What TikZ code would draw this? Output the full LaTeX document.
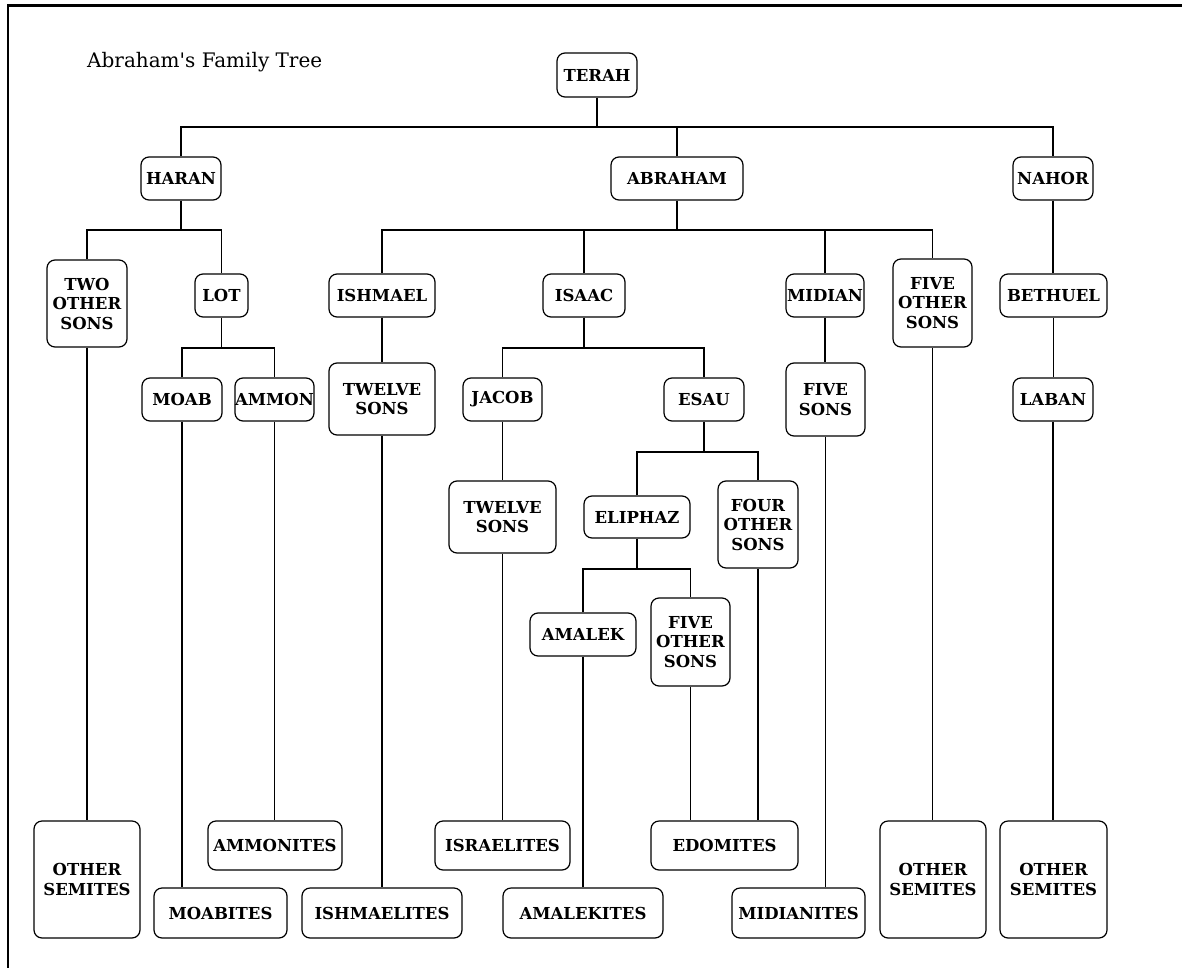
\documentclass[tikz,border=0pt]{standalone}
\usepackage{fontspec}
\setmainfont{DejaVu Serif}
\newfontfamily\titlefont[Ligatures=TeXOff]{DejaVu Serif}
\begin{document}
\begin{tikzpicture}[x=1pt,y=-1pt,
  fam/.style={draw, rounded corners=8pt, line width=1.2pt, align=center, inner sep=0pt,
    font=\bfseries\fontsize{16.5}{19.5}\selectfont},
  link/.style={line width=1.2pt},
  frame/.style={line width=2.6pt}
]
\useasboundingbox (0,0) rectangle (1182,968);
\draw[frame] (8,968) -- (8,5.8) -- (1182,5.8);
\node[anchor=base west, inner sep=0pt, font=\titlefont\fontsize{20}{22}\selectfont] (title) at (87,68) {Abraham's Family Tree};

% generation 1-2
\node[fam, minimum width=80pt, minimum height=44pt] (terah) at (597,75) {TERAH};
\node[fam, minimum width=80pt, minimum height=43pt] (haran) at (181,178.5) {HARAN};
\node[fam, minimum width=132pt, minimum height=43pt] (abraham) at (677,178.5) {ABRAHAM};
\node[fam, minimum width=80pt, minimum height=43pt] (nahor) at (1053,178.5) {NAHOR};

% generation 3
\node[fam, minimum width=80pt, minimum height=87pt] (tos) at (87,303.5) {TWO\\OTHER\\SONS};
\node[fam, minimum width=53pt, minimum height=43pt] (lot) at (221.5,295.5) {LOT};
\node[fam, minimum width=106pt, minimum height=43pt] (ishmael) at (382,295.5) {ISHMAEL};
\node[fam, minimum width=82pt, minimum height=43pt] (isaac) at (584,295.5) {ISAAC};
\node[fam, minimum width=78pt, minimum height=43pt] (midian) at (825,295.5) {MIDIAN};
\node[fam, minimum width=79pt, minimum height=88pt] (fosa) at (932.5,303) {FIVE\\OTHER\\SONS};
\node[fam, minimum width=107pt, minimum height=43pt] (bethuel) at (1053.5,295.5) {BETHUEL};

% generation 4
\node[fam, minimum width=80pt, minimum height=43pt] (moab) at (182,399.5) {MOAB};
\node[fam, minimum width=79pt, minimum height=43pt] (ammon) at (274.5,399.5) {AMMON};
\node[fam, minimum width=106pt, minimum height=72pt] (ts1) at (382,399) {TWELVE\\SONS};
\node[fam, minimum width=79pt, minimum height=43pt] (jacob) at (502.5,399.5) {JACOB};
\node[fam, minimum width=80pt, minimum height=43pt] (esau) at (704,399.5) {ESAU};
\node[fam, minimum width=79pt, minimum height=73pt] (fivesons) at (825.5,399.5) {FIVE\\SONS};
\node[fam, minimum width=80pt, minimum height=43pt] (laban) at (1053,399.5) {LABAN};

% generation 5-6
\node[fam, minimum width=107pt, minimum height=72pt] (ts2) at (502.5,517) {TWELVE\\SONS};
\node[fam, minimum width=106pt, minimum height=42pt] (eliphaz) at (637,517) {ELIPHAZ};
\node[fam, minimum width=80pt, minimum height=87pt] (four) at (758,524.5) {FOUR\\OTHER\\SONS};
\node[fam, minimum width=106pt, minimum height=43pt] (amalek) at (583,634.5) {AMALEK};
\node[fam, minimum width=79pt, minimum height=88pt] (fose) at (690.5,642) {FIVE\\OTHER\\SONS};

% peoples
\node[fam, minimum width=106pt, minimum height=117pt] (os1) at (87,879.5) {OTHER\\SEMITES};
\node[fam, minimum width=134pt, minimum height=49pt] (ammonites) at (275,845.5) {AMMONITES};
\node[fam, minimum width=133pt, minimum height=50pt] (moabites) at (220.5,913) {MOABITES};
\node[fam, minimum width=160pt, minimum height=50pt] (ishmaelites) at (382,913) {ISHMAELITES};
\node[fam, minimum width=135pt, minimum height=49pt] (israelites) at (502.5,845.5) {ISRAELITES};
\node[fam, minimum width=160pt, minimum height=50pt] (amalekites) at (583,913) {AMALEKITES};
\node[fam, minimum width=147pt, minimum height=49pt] (edomites) at (724.5,845.5) {EDOMITES};
\node[fam, minimum width=133pt, minimum height=50pt] (midianites) at (798.5,913) {MIDIANITES};
\node[fam, minimum width=106pt, minimum height=117pt] (os2) at (933,879.5) {OTHER\\SEMITES};
\node[fam, minimum width=107pt, minimum height=117pt] (os3) at (1053.5,879.5) {OTHER\\SEMITES};

% bus heights
\coordinate (b1) at (0,127);
\coordinate (b2) at (0,230);
\coordinate (b3) at (0,348);
\coordinate (b4) at (0,452);
\coordinate (b5) at (0,569);

% connectors
\draw[link] (terah.south) -- (terah.south |- b1);
\draw[link] (haran.north) |- (nahor.north |- b1) -- (nahor.north);
\draw[link] (abraham.north) -- (abraham.north |- b1);

\draw[link] (haran.south) -- (haran.south |- b2);
\draw[link] (tos.north) |- (lot.north |- b2) -- (lot.north);
\draw[link] (abraham.south) -- (abraham.south |- b2);
\draw[link] (ishmael.north) |- (fosa.north |- b2) -- (fosa.north);
\draw[link] (isaac.north) -- (isaac.north |- b2);
\draw[link] (midian.north) -- (midian.north |- b2);

\draw[link] (nahor.south) -- (nahor.south |- bethuel.north);
\draw[link] (bethuel.south) -- (bethuel.south |- laban.north);
\draw[link] (laban.south) -- (laban.south |- os3.north);

\draw[link] (tos.south) -- (tos.south |- os1.north);
\draw[link] (lot.south) -- (lot.south |- b3);
\draw[link] (moab.north) |- (ammon.north |- b3) -- (ammon.north);
\draw[link] (moab.south) -- (moab.south |- moabites.north);
\draw[link] (ammon.south) -- (ammon.south |- ammonites.north);

\draw[link] (ishmael.south) -- (ishmael.south |- ts1.north);
\draw[link] (ts1.south) -- (ts1.south |- ishmaelites.north);

\draw[link] (isaac.south) -- (isaac.south |- b3);
\draw[link] (jacob.north) |- (esau.north |- b3) -- (esau.north);
\draw[link] (jacob.south) -- (jacob.south |- ts2.north);
\draw[link] (ts2.south) -- (ts2.south |- israelites.north);
\draw[link] (esau.south) -- (esau.south |- b4);
\draw[link] (eliphaz.north) |- (four.north |- b4) -- (four.north);
\draw[link] (eliphaz.south) -- (eliphaz.south |- b5);
\draw[link] (amalek.north) |- (fose.north |- b5) -- (fose.north);
\draw[link] (amalek.south) -- (amalek.south |- amalekites.north);
\draw[link] (fose.south) -- (fose.south |- edomites.north);
\draw[link] (four.south) -- (four.south |- edomites.north);

\draw[link] (midian.south) -- (midian.south |- fivesons.north);
\draw[link] (fivesons.south) -- (fivesons.south |- midianites.north);
\draw[link] (fosa.south) -- (fosa.south |- os2.north);
\end{tikzpicture}
\end{document}
